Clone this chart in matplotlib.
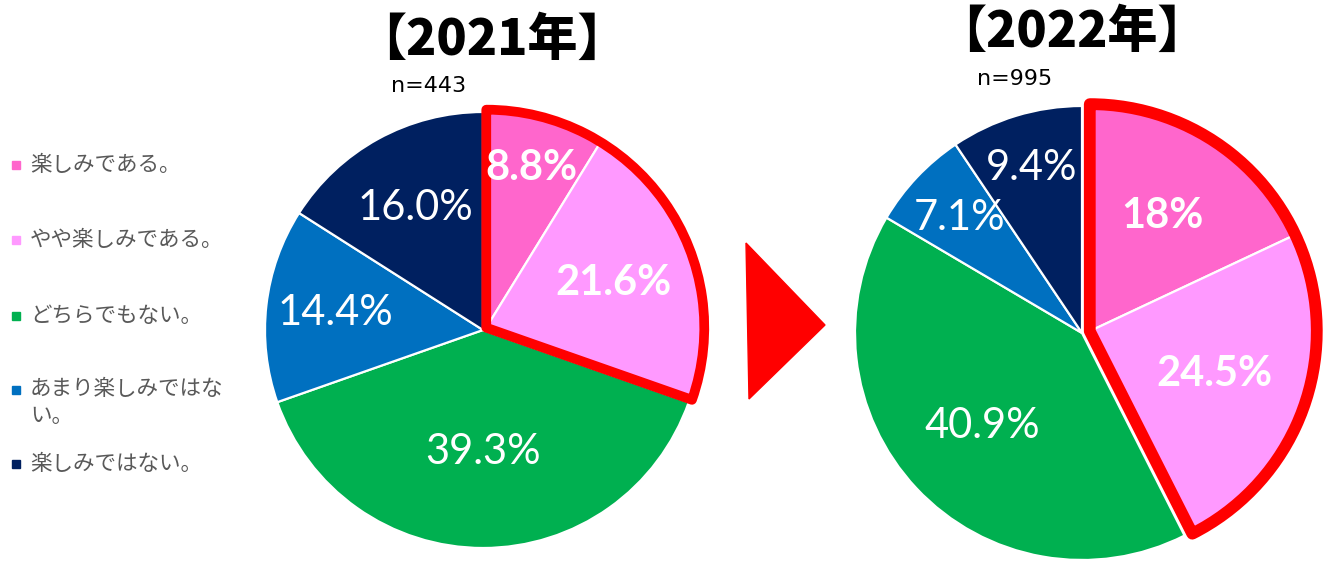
import matplotlib.pyplot as plt
from matplotlib.patches import Wedge, Polygon, Rectangle
import numpy as np

# data
categories = ["楽しみである。", "やや楽しみである。", "どちらでもない。",
              "あまり楽しみではな\nい。", "楽しみではない。"]
values_2021 = [8.8, 21.6, 39.3, 14.4, 16.0]
values_2022 = [18.0, 24.5, 40.9, 7.1, 9.4]
labels_2021 = ["8.8%", "21.6%", "39.3%", "14.4%", "16.0%"]
labels_2022 = ["18%", "24.5%", "40.9%", "7.1%", "9.4%"]
titles = ["【2021年】", "【2022年】"]
n_labels = ["n=443", "n=995"]

colors = ["#FF66CC", "#FF99FF", "#00B050", "#0070C0", "#002060"]
W, H = 1328, 565

fig = plt.figure(figsize=(W / 100, H / 100), dpi=100)
ax = fig.add_axes([0, 0, 1, 1])


def draw_pie(values, labels, cx, cy, r, shift, lw_red, label_r):
    wedges, _ = ax.pie(values, colors=colors, startangle=90, counterclock=False,
                       center=(cx, cy), radius=r,
                       wedgeprops=dict(edgecolor="white", linewidth=1.6))
    # the two "楽しみ" slices are pulled out a little and outlined in red
    top = (values[0] + values[1]) / sum(values)
    mid = np.deg2rad(90 - top * 180)
    dx, dy = shift * np.cos(mid), shift * np.sin(mid)
    for w in wedges[:2]:
        w.set_center((cx + dx, cy + dy))
    ax.add_patch(Wedge((cx + dx, cy + dy), r, 90 - top * 360, 90, fill=False,
                       edgecolor="#FF0000", linewidth=lw_red, joinstyle="round",
                       zorder=5))
    # percent labels
    start = 90
    tot = sum(values)
    for i, (v, lab) in enumerate(zip(values, labels)):
        ang = np.deg2rad(start - v / tot * 180)
        start -= v / tot * 360
        ox, oy = (dx, dy) if i < 2 else (0, 0)
        x = cx + ox + label_r[i] * r * np.cos(ang)
        y = cy + oy + label_r[i] * r * np.sin(ang)
        ax.text(x, y, lab, color="white", fontsize=30, family="Lato",
                fontweight="bold" if i < 2 else "normal",
                ha="center", va="center", zorder=6)


draw_pie(values_2021, labels_2021, 483, H - 330, 218, 4,
         7, [0.76, 0.62, 0.56, 0.68, 0.64])
draw_pie(values_2022, labels_2022, 1082, H - 333, 227, 8,
         8.5, [0.6, 0.58, 0.6, 0.74, 0.76])

# titles and n
ax.text(492, H - 40, titles[0], fontsize=36, fontweight="heavy",
        family="Noto Sans CJK JP", ha="center", va="center")
ax.text(1072, H - 32, titles[1], fontsize=36, fontweight="heavy",
        family="Noto Sans CJK JP", ha="center", va="center")
ax.text(429, H - 86, n_labels[0], fontsize=16, family="DejaVu Sans",
        ha="center", va="center")
ax.text(1015, H - 79, n_labels[1], fontsize=16, family="DejaVu Sans",
        ha="center", va="center")

# red arrow between the pies
ax.add_patch(Polygon([(746, H - 243), (825, H - 325), (749, H - 399)],
                     closed=True, color="#FF0000"))

# legend on the left
leg_y = [165, 240, 316, 390, 464]
for c, lab, y in zip(colors, categories, leg_y):
    ax.add_patch(Rectangle((12, H - y - 4), 8, 8, color=c))
    if "\n" in lab:
        ax.text(30, H - y + 12, lab, fontsize=15.5, color="#595959",
                family="Noto Sans CJK JP", ha="left", va="top", linespacing=1.3)
    else:
        ax.text(30, H - y, lab, fontsize=15.5, color="#595959",
                family="Noto Sans CJK JP", ha="left", va="center")

ax.set_xlim(0, W)
ax.set_ylim(0, H)
ax.set_aspect("equal")
ax.axis("off")

fig.savefig("out.png", dpi=100)
